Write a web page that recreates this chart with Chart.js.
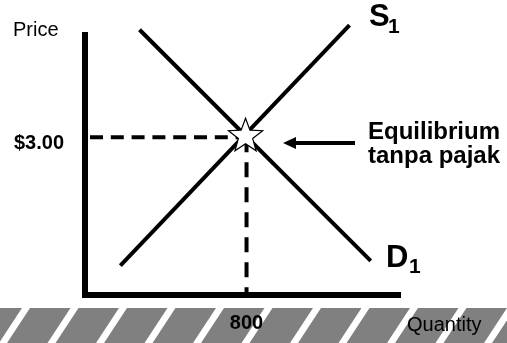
<!DOCTYPE html>
<html>
<head>
<meta charset="utf-8">
<script src="https://cdn.jsdelivr.net/npm/chart.js@4.4.0/dist/chart.umd.min.js"></script>
<style>
  body { margin: 0; background: #fff; }
  #wrap { width: 507px; height: 343px; position: relative; }
</style>
</head>
<body>
<div id="wrap"><canvas id="market-chart"></canvas></div>
<script>
// Supply / demand data (quantity on x, price on y)
var supplyQty = [175, 1310];
var supplyPrice = [0.55, 5.14];
var demandQty = [270, 1415];
var demandPrice = [5.05, 0.64];

var eqQty = 800;
var eqPrice = 3.00;

var xTickValues = [800];
var xTickLabels = ['800'];
var yTickValues = [3.00];
var yTickLabels = ['$3.00'];

var xMax = 1560;
var yMax = 4.95;

var FONT = "'Liberation Sans', Arial, sans-serif";

function toPoints(xs, ys) {
    var pts = [];
    for (var i = 0; i < xs.length; i++) {
        pts.push({ x: xs[i], y: ys[i] });
    }
    return pts;
}

// striped band along the bottom + white page
var backgroundPlugin = {
    id: 'background',
    beforeDraw: function (chart) {
        var ctx = chart.ctx;
        ctx.save();
        ctx.fillStyle = '#fff';
        ctx.fillRect(0, 0, chart.width, chart.height);

        var top = 308, bottom = chart.height;
        ctx.fillStyle = '#808080';
        ctx.fillRect(0, top, chart.width, bottom - top);

        ctx.fillStyle = '#fff';
        var shift = 23 * (bottom - top) / 35;
        for (var x0 = 22 - 48.5; x0 < chart.width + 48.5; x0 += 48.5) {
            ctx.beginPath();
            ctx.moveTo(x0, top);
            ctx.lineTo(x0 + 8, top);
            ctx.lineTo(x0 + 8 - shift, bottom);
            ctx.lineTo(x0 - shift, bottom);
            ctx.closePath();
            ctx.fill();
        }
        ctx.restore();
    }
};

function drawStar(ctx, cx, cy, outer, inner) {
    ctx.beginPath();
    for (var i = 0; i < 10; i++) {
        var r = i % 2 === 0 ? outer : inner;
        var a = -Math.PI / 2 + i * Math.PI / 5;
        var px = cx + r * Math.cos(a);
        var py = cy + r * Math.sin(a);
        if (i === 0) ctx.moveTo(px, py);
        else ctx.lineTo(px, py);
    }
    ctx.closePath();
    ctx.fillStyle = '#fff';
    ctx.fill();
    ctx.lineWidth = 1.2;
    ctx.strokeStyle = '#000';
    ctx.stroke();
}

// star, labels and arrow
var annotationPlugin = {
    id: 'annotations',
    afterDatasetsDraw: function (chart) {
        var ctx = chart.ctx;
        var sx = chart.scales.x.getPixelForValue(eqQty);
        var sy = chart.scales.y.getPixelForValue(eqPrice);
        ctx.save();
        drawStar(ctx, sx - 1, sy - 1, 18, 7.5);
        ctx.restore();
    },
    afterDraw: function (chart) {
        var ctx = chart.ctx;
        ctx.save();
        ctx.fillStyle = '#000';
        ctx.textBaseline = 'alphabetic';
        ctx.textAlign = 'left';

        ctx.font = '20px ' + FONT;
        ctx.fillText('Price', 13, 36);
        ctx.fillText('Quantity', 407, 331);

        ctx.font = 'bold 31px ' + FONT;
        ctx.fillText('S', 369, 26);
        ctx.font = 'bold 21px ' + FONT;
        ctx.fillText('1', 388, 33);

        ctx.font = 'bold 31px ' + FONT;
        ctx.fillText('D', 386, 267);
        ctx.font = 'bold 21px ' + FONT;
        ctx.fillText('1', 409, 273);

        ctx.font = 'bold 24px ' + FONT;
        ctx.fillText('Equilibrium', 368, 139);
        ctx.fillText('tanpa pajak', 368, 163);

        // arrow pointing at the equilibrium
        ctx.strokeStyle = '#000';
        ctx.lineWidth = 4;
        ctx.beginPath();
        ctx.moveTo(355, 143);
        ctx.lineTo(292, 143);
        ctx.stroke();
        ctx.beginPath();
        ctx.moveTo(283, 143);
        ctx.lineTo(296, 137);
        ctx.lineTo(296, 149);
        ctx.closePath();
        ctx.fill();
        ctx.restore();
    }
};

var ctx = document.getElementById('market-chart');
var chart = new Chart(ctx, {
    type: 'scatter',
    data: {
        datasets: [
            {
                label: 'S1',
                data: toPoints(supplyQty, supplyPrice),
                showLine: true,
                borderColor: '#000',
                borderWidth: 4,
                pointRadius: 0,
                clip: false
            },
            {
                label: 'D1',
                data: toPoints(demandQty, demandPrice),
                showLine: true,
                borderColor: '#000',
                borderWidth: 4,
                pointRadius: 0,
                clip: false
            },
            {
                label: 'price line',
                data: [{ x: 0, y: eqPrice }, { x: eqQty, y: eqPrice }],
                showLine: true,
                borderColor: '#000',
                borderWidth: 4,
                borderDash: [13, 7.8],
                borderDashOffset: 15.8,
                pointRadius: 0
            },
            {
                label: 'quantity line',
                data: [{ x: eqQty, y: eqPrice }, { x: eqQty, y: 0 }],
                showLine: true,
                borderColor: '#000',
                borderWidth: 4,
                borderDash: [15, 10],
                pointRadius: 0
            }
        ]
    },
    options: {
        responsive: true,
        maintainAspectRatio: false,
        animation: false,
        layout: {
            padding: { top: 35, right: 107, left: 0, bottom: 0 }
        },
        scales: {
            x: {
                type: 'linear',
                min: 0,
                max: xMax,
                afterFit: function (scale) { scale.height = 48.5; },
                afterBuildTicks: function (scale) {
                    scale.ticks = xTickValues.map(function (v) { return { value: v }; });
                },
                grid: { display: false, drawTicks: false },
                border: { display: true, color: '#000', width: 6 },
                ticks: {
                    padding: 17,
                    color: '#000',
                    font: { family: FONT, size: 20, weight: 'bold' },
                    callback: function (value) {
                        return xTickLabels[xTickValues.indexOf(value)];
                    }
                }
            },
            y: {
                type: 'linear',
                min: 0,
                max: yMax,
                afterFit: function (scale) { scale.width = 85; },
                afterBuildTicks: function (scale) {
                    scale.ticks = yTickValues.map(function (v) { return { value: v }; });
                },
                grid: { display: false, drawTicks: false },
                border: { display: true, color: '#000', width: 6 },
                ticks: {
                    padding: 21,
                    labelOffset: 6,
                    color: '#000',
                    font: { family: FONT, size: 20, weight: 'bold' },
                    callback: function (value) {
                        return yTickLabels[yTickValues.indexOf(value)];
                    }
                }
            }
        },
        plugins: {
            legend: { display: false },
            tooltip: { enabled: false }
        }
    },
    plugins: [backgroundPlugin, annotationPlugin]
});
</script>
</body>
</html>
